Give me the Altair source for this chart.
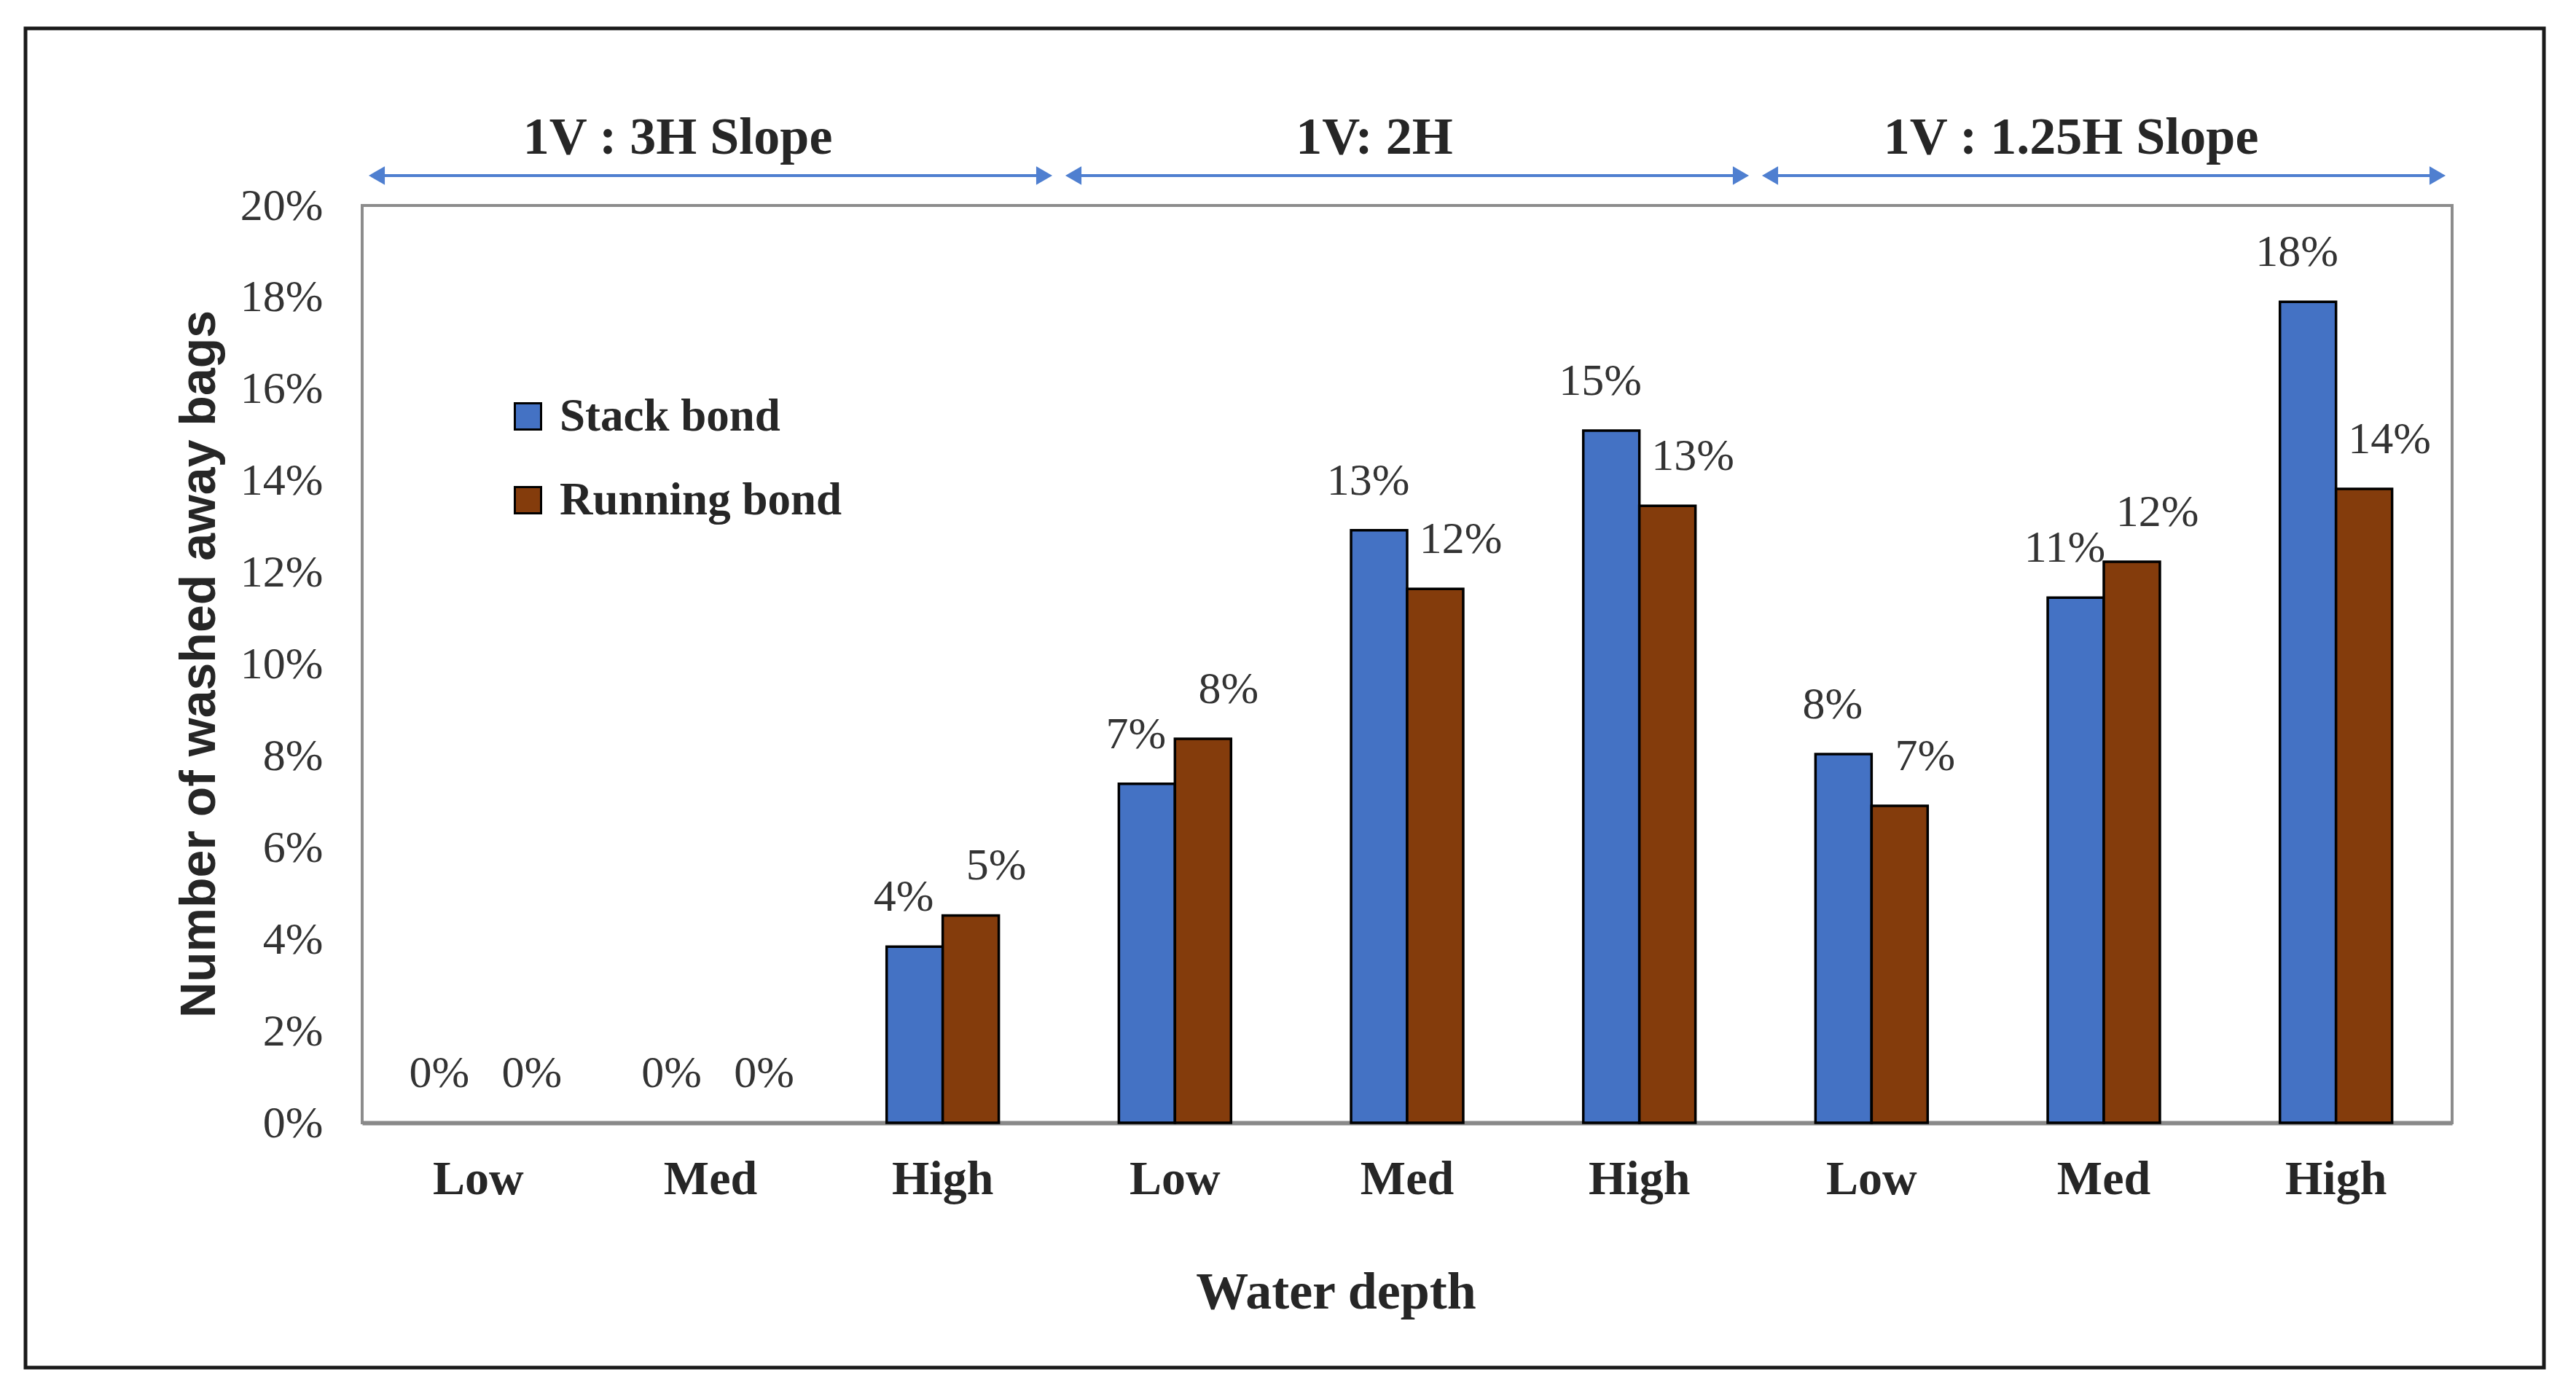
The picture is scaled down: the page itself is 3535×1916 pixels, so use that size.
import altair as alt
import pandas as pd

## washed-away bag percentages
slopes = ["3H", "2H", "1.25H"]
depths = ["Low", "Med", "High"]
group_titles = ["1V : 3H Slope", "1V: 2H", "1V : 1.25H Slope"]
series = ["Stack bond", "Running bond"]
stack_bond = [0.0, 0.0, 3.84, 7.39, 12.92, 15.09, 8.04, 11.45, 17.90]
running_bond = [0.0, 0.0, 4.52, 8.37, 11.64, 13.45, 6.91, 12.23, 13.82]
y_ticks = [0, 2, 4, 6, 8, 10, 12, 14, 16, 18, 20]

SERIF = "Liberation Serif"
SANS = "Liberation Sans"
ARROW = "#4F7FD0"
W, H = 2868, 1259

keys = [f"{s}|{d}" for s in slopes for d in depths]

rows = []
for k, a, b in zip(keys, stack_bond, running_bond):
    rows.append({"key": k, "bond": series[0], "pct": a / 100})
    rows.append({"key": k, "bond": series[1], "pct": b / 100})
df = pd.DataFrame(rows)

groups = pd.DataFrame({
    "key": keys[0::3],
    "mid": keys[1::3],
    "key_end": keys[2::3],
    "title": group_titles,
})

PAD_INNER = 0.517
x_scale = alt.Scale(domain=keys, paddingInner=PAD_INNER, paddingOuter=PAD_INNER / 2)
off_scale = alt.Scale(domain=series, paddingInner=0, paddingOuter=0)
# pixel gap between a band's edge and its step's edge
gap = (W / len(keys)) * PAD_INNER / 2

x_axis = alt.Axis(
    title="Water depth",
    labelExpr="split(datum.label, '|')[1]",
    labelAngle=0,
    labelFont=SERIF, labelFontSize=66, labelFontWeight="bold", labelColor="#262626",
    labelBaseline="alphabetic", labelPadding=97,
    ticks=False, tickSize=0, grid=False,
    domainColor="#898989", domainWidth=6,
    titleFont=SERIF, titleFontSize=72, titleFontWeight="bold", titleColor="#262626",
    titleX=1336, titleY=254, titleBaseline="alphabetic", titleAlign="center",
)

y_axis = alt.Axis(
    values=[v / 100 for v in y_ticks], format=".0%",
    title="Number of washed away bags",
    titleFont=SANS, titleFontSize=68, titleFontWeight="bold", titleColor="#262626",
    titleX=-203, titleY=629, titleBaseline="alphabetic", titleAlign="center", titleAngle=-90,
    labelFont=SERIF, labelFontSize=62, labelColor="#333333", labelPadding=54,
    ticks=False, tickSize=0, domain=False, grid=False,
)

base = alt.Chart(df)

bars = base.mark_bar(stroke="black", strokeWidth=3.5).encode(
    x=alt.X("key:N", scale=x_scale, sort=keys, axis=x_axis),
    xOffset=alt.XOffset("bond:N", sort=series, scale=off_scale),
    y=alt.Y("pct:Q", scale=alt.Scale(domain=[0, 0.2], nice=False), axis=y_axis),
    color=alt.Color(
        "bond:N", sort=series,
        scale=alt.Scale(domain=series, range=["#4472C4", "#843C0C"]),
        legend=alt.Legend(
            title=None, orient="none", legendX=196, legendY=258, padding=0,
            symbolType="square", symbolSize=1296,
            symbolStrokeColor="black", symbolStrokeWidth=3,
            labelFont=SERIF, labelFontSize=63, labelFontWeight="bold",
            labelColor="#262626", labelOffset=12, rowPadding=51, labelLimit=1000,
        ),
    ),
).transform_filter("datum.pct > 0")


def value_labels(name, dx):
    return base.mark_text(
        baseline="bottom", dy=-36, dx=dx,
        font=SERIF, fontSize=62, color="#333333",
    ).encode(
        x=alt.X("key:N", sort=keys),
        xOffset=alt.XOffset("bond:N", sort=series),
        y="pct:Q",
        text=alt.Text("pct:Q", format=".0%"),
    ).transform_filter(f"datum.bond == '{name}'")


stack_text = value_labels(series[0], -15)
running_text = value_labels(series[1], 35)

## slope group arrows and titles above the plot
arrows = alt.Chart(groups).mark_rule(
    color=ARROW, strokeWidth=4, xOffset=-gap + 14, x2Offset=gap - 14
).encode(
    x=alt.X("key:N", bandPosition=0),
    x2=alt.X2("key_end:N", bandPosition=1),
    y=alt.value(-41),
)

left_heads = alt.Chart(groups).mark_point(
    shape="triangle-left", filled=True, size=650, color=ARROW, opacity=1,
    xOffset=-gap + 20,
).encode(
    x=alt.X("key:N", bandPosition=0),
    y=alt.value(-41),
)

right_heads = alt.Chart(groups).mark_point(
    shape="triangle-right", filled=True, size=650, color=ARROW, opacity=1,
    xOffset=gap - 20,
).encode(
    x=alt.X("key_end:N", bandPosition=1),
    y=alt.value(-41),
)

group_text = alt.Chart(groups).mark_text(
    font=SERIF, fontSize=72, fontWeight="bold", color="#262626",
    baseline="alphabetic", dx=-45,
).encode(
    x=alt.X("mid:N"),
    y=alt.value(-71),
    text="title:N",
)

## outer black frame
frame = alt.Chart(alt.Data(values=[{}])).mark_rect(
    fill="transparent", stroke="#1a1a1a", strokeWidth=5
).encode(
    x=alt.value(-462), x2=alt.value(2994),
    y=alt.value(-243), y2=alt.value(1595),
)

chart = alt.layer(
    frame, bars, stack_text, running_text, arrows, left_heads, right_heads, group_text
).properties(
    width=W,
    height=H,
    padding={"left": 24, "top": 28, "right": 10, "bottom": 10},
    background="white",
).configure_view(
    stroke="#8C8C8C", strokeWidth=4
)

chart.save("out.html", embed_options={"renderer": "svg", "actions": False})
